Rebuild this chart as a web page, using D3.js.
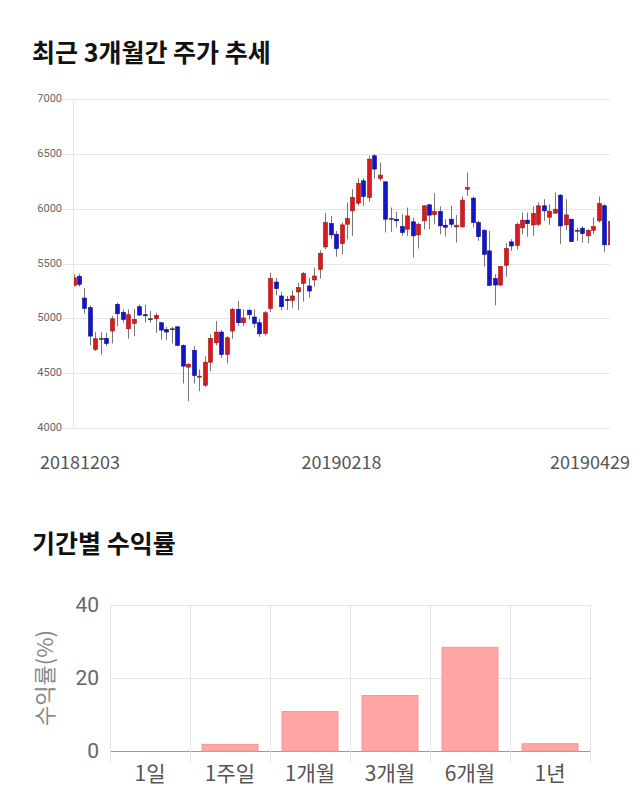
<!DOCTYPE html>
<html>
<head>
<meta charset="utf-8">
<script src="https://cdn.jsdelivr.net/npm/d3@7"></script>
<style>
  body { margin: 0; background: #fff; font-family: "Noto Sans CJK KR", "Noto Sans", sans-serif; }
  svg { display: block; }
</style>
</head>
<body>
<div id="chart"></div>
<script>
// daily prices, 2018-12-03 .. 2019-04-29
var open  = [5300,5383,5185,5097,4716,4817,4817,4884,5127,5054,4905,4954,5106,5033,4996,4996,4960,4899,4905,4923,
             4753,4555,4707,4467,4390,4600,4777,4875,4671,4884,5082,4960,5073,5012,4960,4862,5091,5331,5204,5173,
             5164,5240,5319,5295,5350,5447,5651,5864,5767,5682,5858,5980,6050,6254,6102,6482,6275,6245,5910,5904,
             5837,5813,5880,5761,5889,6035,5947,5974,5849,5904,5834,5834,6178,6096,5874,5803,5615,5362,5304,5484,
             5697,5666,5825,5895,5852,5858,6026,5922,5959,6123,5852,5904,5803,5822,5752,5803,5889,6026,5670];
var high  = [5400,5407,5274,5118,4874,4874,4868,5020,5143,5082,5082,5088,5127,5127,5067,5051,4960,4923,4923,4923,
             4762,4594,4747,4534,4655,4853,4975,4893,4838,5097,5158,5082,5088,5082,4996,5067,5417,5371,5240,5204,
             5255,5325,5423,5371,5462,5621,5959,5934,5797,5873,6056,6178,6275,6275,6482,6498,6421,6245,6010,5971,
             5950,6010,5919,5873,6032,6041,6141,6020,5904,6026,5941,6111,6330,6111,5889,5813,5798,5401,5477,5685,
             5721,5873,5965,5965,6020,6056,6086,6041,6148,6132,6086,5904,5828,5843,5813,5919,6111,6041,5883];
var low   = [5290,5289,5045,4753,4701,4670,4747,4771,4929,4960,4814,4838,5021,4960,4960,4869,4808,4802,4771,4747,
             4406,4244,4406,4336,4375,4518,4753,4640,4588,4814,4929,4929,4990,4914,4832,4844,5057,5210,5076,5076,
             5097,5076,5152,5188,5289,5362,5630,5727,5563,5584,5721,5752,6026,6026,6062,6275,6254,5782,5788,5828,
             5752,5752,5554,5636,5813,5813,5858,5767,5746,5828,5691,5828,6117,5828,5706,5471,5295,5118,5295,5380,
             5615,5624,5767,5746,5752,5840,5889,5852,5959,5676,5806,5700,5706,5691,5685,5767,5874,5606,5670];
var close = [5370,5310,5091,4838,4814,4817,4771,4996,5042,4990,5033,4990,5030,5027,4996,5027,4893,4875,4905,4753,
             4564,4579,4479,4473,4600,4817,4875,4671,4823,5082,4960,5003,5033,4954,4859,5051,5362,5271,5106,5164,
             5204,5280,5408,5249,5386,5593,5873,5761,5636,5852,5910,6102,6230,6111,6452,6361,6306,5904,5910,5889,
             5782,5934,5752,5858,6026,5941,5974,5843,5831,5858,5849,6078,6193,5874,5745,5584,5301,5304,5471,5636,
             5660,5858,5895,5864,5956,6026,5980,5977,5995,5843,5943,5700,5803,5773,5803,5837,6047,5670,5883];
var dateLabels = ["20181203", "20190218", "20190429"];
var dateIndex = [0, 49, 98];
var priceTicks = [4000, 4500, 5000, 5500, 6000, 6500, 7000];

// period returns
var periods = ["1일", "1주일", "1개월", "3개월", "6개월", "1년"];
var returns = [0, 1.8, 10.8, 15.2, 28.4, 2.0];
var returnTicks = [0, 20, 40];

var W = 640, H = 810;
var svg = d3.select("#chart").append("svg").attr("width", W).attr("height", H);

// ---- titles
svg.append("text").attr("x", 32).attr("y", 62).text("최근 3개월간 주가 추세")
  .attr("font-size", 25).attr("font-weight", 700).attr("fill", "#111");
svg.append("text").attr("x", 32).attr("y", 553).text("기간별 수익률")
  .attr("font-size", 25).attr("font-weight", 700).attr("fill", "#111");

// ---- candle chart
var pLeft = 73, pRight = 610, pTop = 99, pBottom = 428;
var x = d3.scalePoint().domain(d3.range(open.length)).range([pLeft + 0.5, pRight - 0.5]);
var y = d3.scaleLinear().domain([4000, 7000]).range([pBottom, pTop]);

var g = svg.append("g");
g.selectAll(".grid").data(priceTicks).enter().append("line")
  .attr("x1", 62).attr("x2", pRight)
  .attr("y1", function(d) { return Math.round(y(d)) + 0.5; })
  .attr("y2", function(d) { return Math.round(y(d)) + 0.5; })
  .attr("stroke", "#e6e6e6");
g.append("line").attr("x1", pLeft + 0.5).attr("x2", pLeft + 0.5).attr("y1", pTop).attr("y2", pBottom)
  .attr("stroke", "#e6e6e6");
g.selectAll(".ylab").data(priceTicks).enter().append("text")
  .attr("x", 62).attr("y", function(d) { return y(d) + 3; })
  .attr("text-anchor", "end").attr("font-size", 11).attr("fill", "#666")
  .attr("font-family", "Roboto, sans-serif")
  .text(function(d) { return d; });

svg.append("clipPath").attr("id", "plotclip").append("rect")
  .attr("x", pLeft + 1).attr("y", pTop - 5).attr("width", pRight - pLeft - 1).attr("height", pBottom - pTop + 10);

var cw = 4;
var candles = g.append("g").attr("clip-path", "url(#plotclip)")
  .selectAll("g").data(d3.range(open.length)).enter().append("g");
candles.append("line")
  .attr("x1", function(i) { return Math.round(x(i)) + 0.5; })
  .attr("x2", function(i) { return Math.round(x(i)) + 0.5; })
  .attr("y1", function(i) { return y(high[i]); })
  .attr("y2", function(i) { return y(low[i]); })
  .attr("stroke", "#777").attr("stroke-width", 1);
candles.append("rect")
  .attr("x", function(i) { return Math.round(x(i)) + 0.5 - cw / 2; })
  .attr("width", cw)
  .attr("y", function(i) { return y(Math.max(open[i], close[i])); })
  .attr("height", function(i) { return Math.max(1, Math.abs(y(open[i]) - y(close[i]))); })
  .attr("fill", function(i) { return close[i] > open[i] ? "#d9191c" : close[i] < open[i] ? "#1414c8" : "#333"; })
  .attr("stroke", function(i) { return close[i] > open[i] ? "#a31010" : close[i] < open[i] ? "#0a0a8c" : "#333"; })
  .attr("stroke-width", 0.6);

g.selectAll(".xlab").data(dateLabels).enter().append("text")
  .attr("x", function(d, k) {
    var px = x(dateIndex[k]);
    return Math.min(Math.max(px, 80), 590);
  })
  .attr("y", 469).attr("text-anchor", "middle")
  .attr("font-size", 18).attr("fill", "#555")
  .text(function(d) { return d; });

// ---- returns bar chart
var bl = 110, br = 590, bt = 605, bb = 751;
var bx = d3.scaleBand().domain(periods).range([bl, br]).paddingInner(0.3).paddingOuter(0.15);
var by = d3.scaleLinear().domain([0, 40]).range([bb, bt]);
var step = bx.step();

var b = svg.append("g");
b.selectAll(".hgrid").data(returnTicks).enter().append("line")
  .attr("x1", bl).attr("x2", br)
  .attr("y1", function(d) { return Math.round(by(d)) + 0.5; })
  .attr("y2", function(d) { return Math.round(by(d)) + 0.5; })
  .attr("stroke", function(d) { return d === 0 ? "#999" : "#e4e4e4"; });
b.selectAll(".vgrid").data(d3.range(periods.length + 1)).enter().append("line")
  .attr("x1", function(k) { return Math.round(bl + k * step) + 0.5; })
  .attr("x2", function(k) { return Math.round(bl + k * step) + 0.5; })
  .attr("y1", bt).attr("y2", bb + 11)
  .attr("stroke", "#e4e4e4");
b.selectAll(".ytick").data(returnTicks).enter().append("text")
  .attr("x", 99).attr("y", function(d) { return by(d) + 7; })
  .attr("text-anchor", "end").attr("font-size", 21).attr("fill", "#666")
  .attr("font-family", "Roboto, sans-serif")
  .text(function(d) { return d; });
b.append("text").attr("transform", "translate(53," + ((bt + bb) / 2) + ") rotate(-90)")
  .attr("text-anchor", "middle").attr("font-size", 22).attr("fill", "#888")
  .text("수익률(%)");
b.selectAll(".bar").data(periods).enter().append("rect")
  .attr("x", function(d) { return bx(d); })
  .attr("width", bx.bandwidth())
  .attr("y", function(d, k) { return by(returns[k]); })
  .attr("height", function(d, k) { return by(0) - by(returns[k]); })
  .attr("fill", "#ffa5a5").attr("stroke", "#f19a9a").attr("stroke-width", 1);
b.selectAll(".xtick").data(periods).enter().append("text")
  .attr("x", function(d) { return bx(d) + bx.bandwidth() / 2; })
  .attr("y", 781).attr("text-anchor", "middle")
  .attr("font-size", 21).attr("fill", "#555")
  .text(function(d) { return d; });
</script>
</body>
</html>
